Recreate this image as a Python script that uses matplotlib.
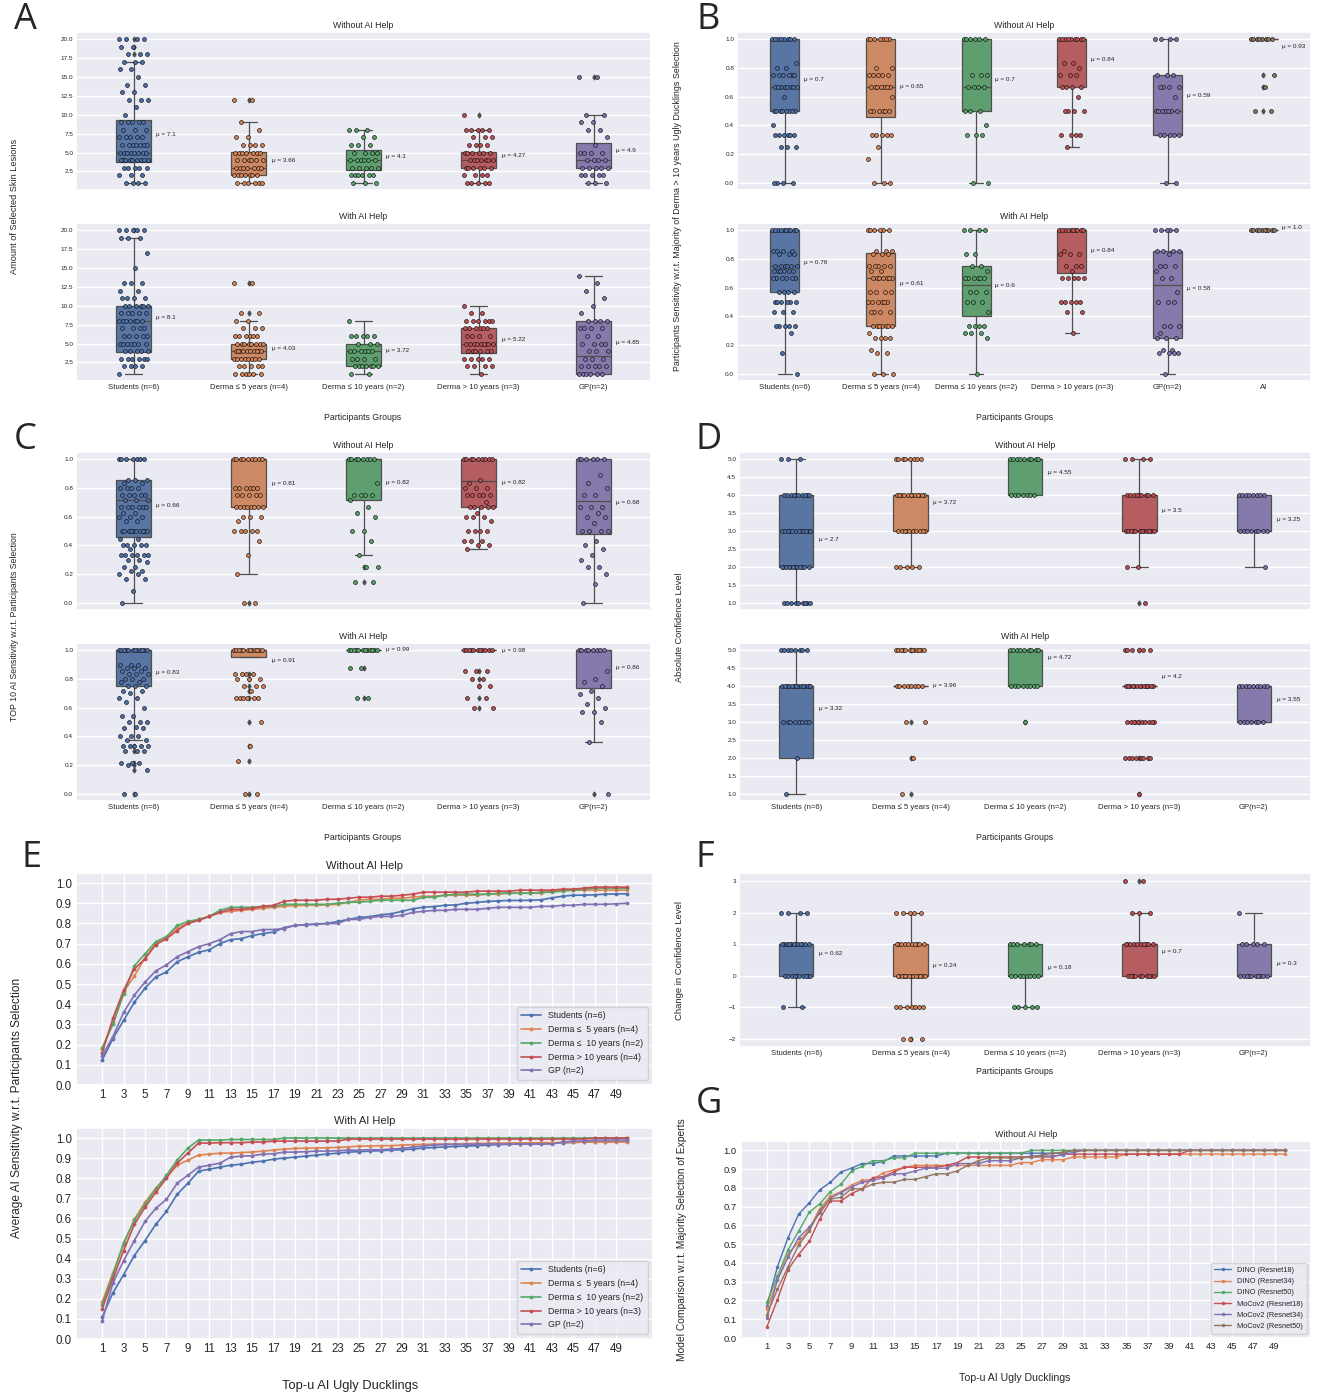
import matplotlib
matplotlib.use("Agg")
import matplotlib.pyplot as plt
import numpy as np
import seaborn as sns

sns.set_theme(style="darkgrid")
plt.rcParams["font.family"] = ["Liberation Sans", "DejaVu Sans"]

# ---------------- DATA ----------------
groups5 = ["Students (n=6)", "Derma ≤ 5 years (n=4)", "Derma ≤ 10 years (n=2)",
           "Derma > 10 years (n=3)", "GP(n=2)"]
groups6 = groups5 + ["AI"]

# box stats: (q1, median, q3, whisker_low, whisker_high)
A_wo_box = [(3.7, 5, 9.3, 1, 17), (2, 3, 5.1, 1, 9), (2.7, 4, 5.3, 1, 8), (3, 4, 5.1, 1, 8), (3, 4, 6.3, 1, 10)]
A_w_box = [(3.9, 8, 10, 1, 19), (2.9, 4, 5, 1, 8), (2, 4, 5, 1, 8), (3.7, 5, 7, 1, 10), (1, 3.4, 8, 1, 14)]
A_wo_mean = [7.1, 3.66, 4.1, 4.27, 4.9]
A_w_mean = [8.1, 4.03, 3.72, 5.22, 4.85]
A_wo_pts = [
    [20, 20, 20, 20, 19, 19, 18, 18, 18, 17, 17, 17, 16, 16, 15, 14, 14, 13, 13, 12, 12, 12, 11, 10, 9, 9, 9, 9, 9,
     8, 8, 8, 7, 7, 7, 7, 7, 6, 6, 6, 6, 6, 6, 6, 5, 5, 5, 5, 5, 5, 5, 5, 4, 4, 4, 4, 4, 4, 4, 4, 4, 3, 3, 3, 3, 3,
     2, 2, 2, 1, 1, 1, 1],
    [12, 12, 9, 8, 7, 7, 6, 6, 6, 6, 5, 5, 5, 5, 5, 5, 5, 4, 4, 4, 4, 4, 4, 3, 3, 3, 3, 3, 3, 3, 2, 2, 2, 2, 2, 2, 2,
     1, 1, 1, 1, 1, 1],
    [8, 8, 8, 7, 7, 6, 6, 6, 5, 5, 5, 5, 4, 4, 4, 4, 4, 4, 3, 3, 3, 3, 3, 2, 2, 2, 2, 2, 2, 1, 1, 1],
    [10, 8, 8, 8, 8, 8, 7, 7, 7, 6, 6, 6, 6, 5, 5, 5, 5, 5, 5, 4, 4, 4, 4, 4, 4, 4, 3, 3, 3, 3, 3, 3, 2, 2, 2, 2,
     1, 1, 1, 1, 1],
    [15, 15, 10, 10, 9, 9, 8, 8, 7, 6, 5, 5, 5, 5, 4, 4, 4, 4, 3, 3, 3, 3, 3, 2, 2, 2, 2, 2, 1, 1, 1],
]
A_w_pts = [
    [20, 20, 20, 20, 20, 19, 19, 19, 17, 15, 13, 13, 13, 12, 12, 11, 11, 11, 11, 10, 10, 10, 10, 10, 10, 9, 9, 9, 9,
     9, 8, 8, 8, 8, 8, 8, 8, 7, 7, 7, 7, 6, 6, 6, 6, 6, 5, 5, 5, 5, 5, 5, 5, 4, 4, 4, 4, 4, 3, 3, 3, 3, 3, 3, 2, 2,
     2, 2, 1],
    [13, 13, 9, 9, 8, 8, 7, 7, 7, 6, 6, 6, 6, 6, 6, 5, 5, 5, 5, 5, 5, 5, 5, 4, 4, 4, 4, 4, 4, 4, 4, 4, 4, 3, 3, 3,
     3, 3, 3, 3, 3, 2, 2, 2, 2, 2, 1, 1, 1, 1, 1, 1],
    [8, 6, 6, 6, 6, 6, 5, 5, 5, 4, 4, 4, 4, 4, 4, 3, 3, 3, 3, 2, 2, 2, 2, 2, 2, 2, 1, 1],
    [10, 9, 9, 8, 8, 8, 8, 8, 8, 7, 7, 7, 7, 7, 7, 6, 6, 6, 6, 5, 5, 5, 5, 5, 5, 5, 5, 5, 4, 4, 4, 4, 4, 4, 3, 3, 3,
     3, 3, 2, 2, 2, 2, 1],
    [14, 13, 12, 11, 10, 9, 8, 8, 8, 8, 7, 7, 7, 7, 6, 6, 5, 5, 5, 5, 4, 4, 4, 3, 3, 3, 2, 2, 2, 2, 2, 1, 1, 1, 1,
     1, 1],
]

B_wo_box = [(0.5, 0.667, 1, 0, 1), (0.455, 0.667, 1, 0, 1), (0.5, 0.667, 1, 0, 1), (0.667, 1, 1, 0.25, 1),
            (0.333, 0.5, 0.75, 0, 1), (1, 1, 1, 1, 1)]
B_w_box = [(0.57, 0.75, 1, 0, 1), (0.333, 0.667, 0.84, 0, 1), (0.405, 0.62, 0.75, 0, 1), (0.7, 1, 1, 0.286, 1),
           (0.25, 0.62, 0.857, 0, 1), (1, 1, 1, 1, 1)]
B_wo_mean = [0.7, 0.65, 0.7, 0.84, 0.59, 0.93]
B_w_mean = [0.76, 0.61, 0.6, 0.84, 0.58, 1.0]
B_wo_pts = [
    [1, 1, 1, 1, 1, 1, 1, 1, 0.833, 0.8, 0.8, 0.75, 0.75, 0.75, 0.75, 0.75, 0.75, 0.667, 0.667, 0.667, 0.667, 0.667,
     0.667, 0.667, 0.667, 0.6, 0.5, 0.5, 0.5, 0.5, 0.5, 0.5, 0.5, 0.5, 0.4, 0.333, 0.333, 0.333, 0.333, 0.333, 0.333,
     0.25, 0.25, 0.25, 0, 0, 0, 0],
    [1, 1, 1, 1, 1, 1, 1, 0.8, 0.8, 0.75, 0.75, 0.75, 0.75, 0.75, 0.667, 0.667, 0.667, 0.667, 0.667, 0.667, 0.667,
     0.6, 0.5, 0.5, 0.5, 0.5, 0.5, 0.5, 0.333, 0.333, 0.333, 0.333, 0.333, 0.25, 0.167, 0, 0, 0],
    [1, 1, 1, 1, 1, 1, 0.75, 0.75, 0.75, 0.667, 0.667, 0.667, 0.667, 0.5, 0.5, 0.5, 0.4, 0.333, 0.333, 0.333, 0, 0],
    [1, 1, 1, 1, 1, 1, 1, 1, 1, 0.833, 0.833, 0.8, 0.75, 0.75, 0.75, 0.667, 0.667, 0.667, 0.667, 0.6, 0.5, 0.5, 0.5,
     0.5, 0.333, 0.333, 0.333, 0.333, 0.25],
    [1, 1, 1, 1, 0.75, 0.75, 0.75, 0.667, 0.667, 0.667, 0.667, 0.6, 0.5, 0.5, 0.5, 0.5, 0.5, 0.5, 0.5, 0.333, 0.333,
     0.333, 0.333, 0.333, 0, 0],
    [1, 1, 1, 1, 1, 1, 1, 1, 0.75, 0.667, 0.5, 0.5],
]
B_w_pts = [
    [1, 1, 1, 1, 1, 1, 1, 1, 1, 1, 0.857, 0.857, 0.857, 0.857, 0.833, 0.833, 0.833, 0.75, 0.75, 0.75, 0.75, 0.75,
     0.75, 0.714, 0.714, 0.714, 0.714, 0.714, 0.714, 0.667, 0.667, 0.667, 0.667, 0.667, 0.667, 0.571, 0.571, 0.571,
     0.571, 0.5, 0.5, 0.5, 0.5, 0.5, 0.5, 0.429, 0.429, 0.429, 0.333, 0.333, 0.333, 0.333, 0.333, 0.286, 0.143, 0],
    [1, 1, 1, 1, 1, 1, 0.857, 0.857, 0.857, 0.833, 0.833, 0.833, 0.75, 0.75, 0.75, 0.75, 0.75, 0.714, 0.714, 0.667,
     0.667, 0.667, 0.667, 0.667, 0.667, 0.667, 0.571, 0.571, 0.571, 0.571, 0.5, 0.5, 0.5, 0.5, 0.5, 0.5, 0.429, 0.429,
     0.429, 0.429, 0.333, 0.333, 0.333, 0.333, 0.333, 0.333, 0.333, 0.286, 0.25, 0.25, 0.25, 0.25, 0.167, 0.143,
     0.143, 0, 0, 0],
    [1, 1, 1, 1, 0.833, 0.833, 0.75, 0.75, 0.714, 0.667, 0.667, 0.667, 0.667, 0.667, 0.667, 0.571, 0.571, 0.571, 0.5,
     0.5, 0.5, 0.429, 0.333, 0.333, 0.333, 0.333, 0.286, 0.286, 0.286, 0.25, 0],
    [1, 1, 1, 1, 1, 1, 1, 1, 1, 1, 0.857, 0.833, 0.833, 0.833, 0.75, 0.75, 0.75, 0.714, 0.667, 0.667, 0.667, 0.667,
     0.667, 0.5, 0.5, 0.5, 0.5, 0.5, 0.429, 0.429, 0.286],
    [1, 1, 1, 1, 1, 0.857, 0.857, 0.857, 0.857, 0.833, 0.75, 0.75, 0.75, 0.714, 0.667, 0.667, 0.571, 0.5, 0.5, 0.5,
     0.333, 0.333, 0.333, 0.286, 0.25, 0.25, 0.25, 0.167, 0.167, 0.143, 0.143, 0.143, 0.143, 0],
    [1, 1, 1, 1, 1, 1, 1, 1, 1, 1],
]

C_wo_box = [(0.46, 0.714, 0.857, 0, 1), (0.667, 1, 1, 0.2, 1), (0.714, 1, 1, 0.333, 1), (0.667, 0.846, 1, 0.375, 1),
            (0.48, 0.71, 1, 0, 1)]
C_w_box = [(0.75, 1, 1, 0.375, 1), (0.955, 1, 1, 0.955, 1), (1, 1, 1, 1, 1), (1, 1, 1, 1, 1), (0.74, 1, 1, 0.364, 1)]
C_wo_mean = [0.66, 0.81, 0.82, 0.82, 0.68]
C_w_mean = [0.83, 0.91, 0.99, 0.98, 0.86]
C_wo_pts = [
    [1, 1, 1, 1, 1, 1, 1, 0.857, 0.857, 0.857, 0.833, 0.833, 0.8, 0.8, 0.8, 0.8, 0.75, 0.75, 0.75, 0.75, 0.75, 0.714,
     0.714, 0.714, 0.667, 0.667, 0.667, 0.667, 0.667, 0.667, 0.625, 0.625, 0.6, 0.6, 0.6, 0.571, 0.571, 0.5, 0.5, 0.5,
     0.5, 0.5, 0.5, 0.5, 0.5, 0.5, 0.5, 0.444, 0.444, 0.4, 0.4, 0.4, 0.4, 0.4, 0.375, 0.333, 0.333, 0.333, 0.333,
     0.333, 0.333, 0.3, 0.3, 0.286, 0.25, 0.25, 0.222, 0.222, 0.2, 0.2, 0.167, 0.167, 0.083, 0],
    [1, 1, 1, 1, 1, 1, 1, 1, 1, 0.8, 0.8, 0.8, 0.8, 0.8, 0.8, 0.75, 0.75, 0.75, 0.75, 0.75, 0.667, 0.667, 0.667,
     0.667, 0.667, 0.667, 0.667, 0.667, 0.6, 0.6, 0.6, 0.571, 0.5, 0.5, 0.5, 0.5, 0.5, 0.429, 0.333, 0.2, 0, 0],
    [1, 1, 1, 1, 1, 1, 1, 1, 0.833, 0.75, 0.75, 0.75, 0.75, 0.714, 0.667, 0.625, 0.6, 0.5, 0.5, 0.429, 0.333, 0.25,
     0.25, 0.143, 0.143],
    [1, 1, 1, 1, 1, 1, 1, 1, 1, 0.857, 0.833, 0.8, 0.8, 0.8, 0.75, 0.75, 0.75, 0.75, 0.75, 0.7, 0.667, 0.667, 0.667,
     0.667, 0.667, 0.625, 0.6, 0.6, 0.6, 0.571, 0.5, 0.5, 0.5, 0.5, 0.429, 0.429, 0.429, 0.4, 0.4, 0.375],
    [1, 1, 1, 1, 1, 1, 0.889, 0.833, 0.8, 0.75, 0.75, 0.667, 0.667, 0.667, 0.625, 0.6, 0.6, 0.556, 0.5, 0.5, 0.5,
     0.5, 0.429, 0.4, 0.375, 0.333, 0.3, 0.25, 0.25, 0.2, 0.133, 0],
]
C_w_pts = [
    [1, 1, 1, 1, 1, 1, 1, 1, 1, 1, 1, 1, 0.9, 0.9, 0.9, 0.875, 0.875, 0.875, 0.857, 0.857, 0.833, 0.833, 0.833, 0.8,
     0.8, 0.8, 0.778, 0.778, 0.75, 0.75, 0.75, 0.714, 0.714, 0.7, 0.667, 0.667, 0.636, 0.6, 0.545, 0.545, 0.5, 0.5,
     0.5, 0.467, 0.455, 0.455, 0.4, 0.4, 0.4, 0.375, 0.375, 0.333, 0.333, 0.333, 0.333, 0.333, 0.3, 0.3, 0.3, 0.214,
     0.214, 0.214, 0.2, 0.167, 0, 0],
    [1, 1, 1, 1, 1, 1, 1, 1, 1, 1, 1, 1, 0.833, 0.833, 0.833, 0.833, 0.8, 0.8, 0.8, 0.75, 0.75, 0.75, 0.714, 0.667,
     0.667, 0.667, 0.667, 0.667, 0.667, 0.5, 0.333, 0.231, 0, 0],
    [1, 1, 1, 1, 1, 1, 1, 1, 1, 1, 1, 1, 0.875, 0.875, 0.667, 0.667],
    [1, 1, 1, 1, 1, 1, 1, 1, 1, 1, 1, 0.857, 0.857, 0.857, 0.8, 0.8, 0.75, 0.75, 0.667, 0.667, 0.6, 0.6],
    [1, 1, 1, 1, 1, 1, 1, 1, 0.857, 0.8, 0.778, 0.75, 0.714, 0.692, 0.667, 0.625, 0.6, 0.571, 0.571, 0.5, 0.364, 0],
]

D_wo_box = [(2, 3, 4, 1, 5), (3, 4, 4, 2, 5), (4, 5, 5, 4, 5), (3, 3, 4, 2, 5), (3, 3, 4, 2, 4)]
D_w_box = [(2, 4, 4, 1, 5), (4, 4, 4, 4, 4), (4, 5, 5, 4, 5), (4, 4, 4, 4, 4), (3, 4, 4, 3, 4)]
D_wo_mean = [2.7, 3.72, 4.55, 3.5, 3.25]
D_w_mean = [3.32, 3.96, 4.72, 4.2, 3.55]
D_wo_pts = [
    [5, 5, 5, 4, 4, 4, 4, 4, 4, 4, 4, 4, 4, 3, 3, 3, 3, 3, 3, 3, 3, 3, 3, 3, 3, 2, 2, 2, 2, 2, 2, 2, 2, 2, 2, 2, 2,
     1, 1, 1, 1, 1, 1, 1, 1, 1],
    [5, 5, 5, 5, 5, 5, 5, 5, 4, 4, 4, 4, 4, 4, 4, 4, 4, 4, 4, 4, 3, 3, 3, 3, 3, 3, 3, 3, 3, 3, 2, 2, 2, 2, 2],
    [5, 5, 5, 5, 5, 5, 5, 5, 5, 4, 4, 4, 4, 4, 4, 4],
    [5, 5, 5, 5, 4, 4, 4, 4, 4, 4, 4, 4, 4, 3, 3, 3, 3, 3, 3, 3, 3, 3, 3, 3, 3, 2, 2, 1],
    [4, 4, 4, 4, 4, 4, 4, 4, 3, 3, 3, 3, 3, 3, 3, 3, 2],
]
D_w_pts = [
    [5, 5, 5, 5, 5, 5, 5, 5, 4, 4, 4, 4, 4, 4, 4, 4, 4, 4, 4, 4, 4, 4, 3, 3, 3, 3, 3, 3, 3, 3, 2, 1],
    [5, 5, 5, 5, 5, 5, 5, 5, 5, 5, 5, 5, 4, 4, 4, 4, 4, 4, 4, 4, 3, 3, 2, 1],
    [5, 5, 5, 5, 5, 5, 5, 5, 5, 4, 4, 4, 4, 4, 4, 4, 4, 3],
    [5, 5, 5, 5, 5, 5, 4, 4, 4, 4, 4, 4, 4, 4, 4, 4, 4, 4, 4, 4, 3, 3, 3, 3, 3, 3, 3, 3, 3, 3, 2, 2, 2, 2, 2, 2, 2,
     2, 1],
    [4, 4, 4, 4, 4, 4, 4, 4, 4, 3, 3, 3, 3, 3, 3, 3],
]

F_box = [(0, 1, 1, -1, 2), (0, 0, 1, -1, 2), (0, 0, 1, -1, 1), (0, 1, 1, 0, 2), (0, 0, 1, 0, 2)]
F_mean = [0.62, 0.24, 0.18, 0.7, 0.3]
F_pts = [
    [2, 2, 2, 2, 1, 1, 1, 1, 1, 1, 1, 1, 1, 1, 1, 1, 0, 0, 0, 0, 0, 0, 0, 0, 0, 0, -1, -1],
    [2, 2, 2, 2, 2, 1, 1, 1, 1, 1, 1, 1, 1, 1, 1, 0, 0, 0, 0, 0, 0, 0, 0, 0, 0, 0, 0, 0, 0, -1, -1, -1, -1, -1, -1,
     -1, -2, -2, -2],
    [1, 1, 1, 1, 1, 1, 1, 0, 0, 0, 0, 0, 0, 0, 0, -1, -1, -1, -1, -1],
    [3, 3, 2, 2, 2, 1, 1, 1, 1, 1, 1, 1, 1, 1, 1, 0, 0, 0, 0, 0, 0, 0, 0, 0, 0],
    [2, 1, 1, 1, 1, 1, 0, 0, 0, 0, 0, 0, 0, 0, 0, 0],
]

topu = list(range(1, 51))
E_wo_labels = ["Students (n=6)", "Derma ≤  5 years (n=4)", "Derma ≤  10 years (n=2)",
               "Derma > 10 years (n=4)", "GP (n=2)"]
E_w_labels = ["Students (n=6)", "Derma ≤  5 years (n=4)", "Derma ≤  10 years (n=2)",
              "Derma > 10 years (n=3)", "GP (n=2)"]
E_wo_students = [0.124, 0.23, 0.32, 0.41, 0.48, 0.535, 0.56, 0.61, 0.635, 0.657,
                 0.67, 0.70, 0.72, 0.725, 0.74, 0.75, 0.757, 0.78, 0.79, 0.793,
                 0.798, 0.80, 0.81, 0.82, 0.83, 0.834, 0.843, 0.848, 0.86, 0.873,
                 0.88, 0.884, 0.89, 0.892, 0.90, 0.904, 0.909, 0.912, 0.914, 0.914,
                 0.915, 0.917, 0.927, 0.935, 0.94, 0.94, 0.942, 0.945, 0.946, 0.947]
E_wo_derma5 = [0.18, 0.31, 0.46, 0.54, 0.63, 0.70, 0.73, 0.78, 0.80, 0.82,
               0.835, 0.855, 0.86, 0.865, 0.87, 0.875, 0.88, 0.885, 0.888, 0.89,
               0.89, 0.892, 0.895, 0.905, 0.915, 0.92, 0.92, 0.925, 0.925, 0.93,
               0.935, 0.935, 0.94, 0.94, 0.94, 0.94, 0.945, 0.945, 0.95, 0.95,
               0.95, 0.95, 0.96, 0.965, 0.965, 0.965, 0.965, 0.965, 0.965, 0.965]
E_wo_derma10 = [0.185, 0.30, 0.45, 0.59, 0.65, 0.71, 0.735, 0.79, 0.81, 0.82,
                0.835, 0.865, 0.88, 0.88, 0.88, 0.885, 0.885, 0.895, 0.895, 0.895,
                0.895, 0.895, 0.90, 0.905, 0.905, 0.91, 0.915, 0.915, 0.915, 0.915,
                0.93, 0.93, 0.94, 0.945, 0.945, 0.945, 0.945, 0.95, 0.95, 0.95,
                0.95, 0.955, 0.955, 0.96, 0.965, 0.97, 0.975, 0.975, 0.975, 0.975]
E_wo_dermaGT10 = [0.16, 0.33, 0.47, 0.575, 0.625, 0.695, 0.725, 0.765, 0.80, 0.815,
                  0.835, 0.855, 0.87, 0.87, 0.875, 0.885, 0.89, 0.91, 0.915, 0.915,
                  0.915, 0.92, 0.92, 0.925, 0.93, 0.93, 0.935, 0.935, 0.94, 0.945,
                  0.955, 0.955, 0.955, 0.955, 0.955, 0.96, 0.96, 0.96, 0.96, 0.965,
                  0.965, 0.965, 0.965, 0.97, 0.97, 0.975, 0.98, 0.98, 0.98, 0.98]
E_wo_gp = [0.145, 0.24, 0.36, 0.445, 0.51, 0.565, 0.595, 0.635, 0.66, 0.685,
           0.70, 0.72, 0.75, 0.76, 0.76, 0.77, 0.77, 0.775, 0.79, 0.795,
           0.795, 0.80, 0.80, 0.82, 0.82, 0.83, 0.835, 0.835, 0.84, 0.855,
           0.86, 0.865, 0.865, 0.87, 0.87, 0.87, 0.875, 0.88, 0.88, 0.88,
           0.88, 0.885, 0.885, 0.89, 0.89, 0.895, 0.895, 0.895, 0.897, 0.90]

E_w_students = [0.11, 0.23, 0.32, 0.415, 0.49, 0.57, 0.635, 0.72, 0.775, 0.835,
                0.845, 0.855, 0.865, 0.87, 0.88, 0.885, 0.895, 0.90, 0.905, 0.91,
                0.915, 0.92, 0.925, 0.93, 0.932, 0.935, 0.937, 0.94, 0.942, 0.945,
                0.95, 0.953, 0.956, 0.958, 0.96, 0.962, 0.965, 0.967, 0.969, 0.97,
                0.972, 0.973, 0.975, 0.977, 0.978, 0.98, 0.981, 0.982, 0.983, 0.983]
E_w_derma5 = [0.185, 0.33, 0.47, 0.595, 0.68, 0.75, 0.805, 0.865, 0.89, 0.915,
              0.92, 0.925, 0.925, 0.928, 0.93, 0.935, 0.94, 0.945, 0.948, 0.95,
              0.95, 0.952, 0.953, 0.956, 0.96, 0.96, 0.962, 0.962, 0.965, 0.967,
              0.968, 0.97, 0.97, 0.97, 0.972, 0.973, 0.974, 0.975, 0.975, 0.976,
              0.976, 0.977, 0.977, 0.978, 0.978, 0.98, 0.98, 0.98, 0.98, 0.98]
E_w_derma10 = [0.17, 0.32, 0.48, 0.59, 0.67, 0.745, 0.815, 0.89, 0.95, 0.99,
               0.99, 0.99, 0.993, 0.993, 0.993, 0.993, 0.993, 1.0, 1.0, 1.0,
               1.0, 1.0, 1.0, 1.0, 1.0, 1.0, 1.0, 1.0, 1.0, 1.0,
               1.0, 1.0, 1.0, 1.0, 1.0, 1.0, 1.0, 1.0, 1.0, 1.0,
               1.0, 1.0, 1.0, 1.0, 1.0, 1.0, 1.0, 1.0, 1.0, 1.0]
E_w_dermaGT10 = [0.15, 0.30, 0.44, 0.57, 0.655, 0.73, 0.80, 0.875, 0.925, 0.975,
                 0.975, 0.977, 0.977, 0.977, 0.98, 0.98, 0.985, 0.985, 0.985, 0.985,
                 0.985, 0.985, 0.985, 0.995, 0.995, 0.995, 0.995, 0.995, 0.995, 0.995,
                 0.995, 0.995, 0.995, 0.995, 0.995, 0.995, 0.995, 0.995, 0.995, 0.995,
                 0.995, 0.995, 0.995, 0.995, 0.995, 0.995, 1.0, 1.0, 1.0, 1.0]
E_w_gp = [0.09, 0.28, 0.39, 0.49, 0.585, 0.65, 0.695, 0.775, 0.815, 0.855,
          0.865, 0.875, 0.905, 0.91, 0.912, 0.92, 0.922, 0.93, 0.93, 0.932,
          0.935, 0.935, 0.937, 0.94, 0.94, 0.942, 0.942, 0.945, 0.948, 0.955,
          0.96, 0.965, 0.968, 0.968, 0.968, 0.97, 0.97, 0.97, 0.97, 0.97,
          0.97, 0.97, 0.97, 0.98, 0.985, 0.985, 0.99, 0.99, 0.99, 0.99]

G_labels = ["DINO (Resnet18)", "DINO (Resnet34)", "DINO (Resnet50)",
            "MoCov2 (Resnet18)", "MoCov2 (Resnet34)", "MoCov2 (Resnet50)"]
G_dino18 = [0.17, 0.38, 0.535, 0.66, 0.72, 0.79, 0.83, 0.885, 0.905, 0.93,
            0.93, 0.94, 0.97, 0.97, 0.97, 0.97, 0.97, 0.985, 0.985, 0.985,
            0.985, 0.985, 0.985, 0.985, 0.985, 0.985, 0.985, 0.985, 0.985, 1.0,
            1.0, 1.0, 1.0, 1.0, 1.0, 1.0, 1.0, 1.0, 1.0, 1.0,
            1.0, 1.0, 1.0, 1.0, 1.0, 1.0, 1.0, 1.0, 1.0, 1.0]
G_dino34 = [0.155, 0.31, 0.45, 0.51, 0.58, 0.69, 0.755, 0.78, 0.815, 0.84,
            0.845, 0.88, 0.895, 0.91, 0.92, 0.92, 0.92, 0.92, 0.92, 0.92,
            0.92, 0.92, 0.92, 0.92, 0.935, 0.935, 0.95, 0.95, 0.95, 0.965,
            0.965, 0.965, 0.965, 0.965, 0.98, 0.98, 0.98, 0.98, 0.98, 0.98,
            0.98, 0.98, 0.98, 0.98, 0.98, 0.98, 0.98, 0.98, 0.98, 0.98]
G_dino50 = [0.19, 0.33, 0.47, 0.57, 0.67, 0.715, 0.78, 0.82, 0.89, 0.915,
            0.945, 0.945, 0.96, 0.96, 0.985, 0.985, 0.985, 0.985, 0.985, 0.985,
            0.985, 0.985, 0.985, 0.985, 0.985, 1.0, 1.0, 1.0, 1.0, 1.0,
            1.0, 1.0, 1.0, 1.0, 1.0, 1.0, 1.0, 1.0, 1.0, 1.0,
            1.0, 1.0, 1.0, 1.0, 1.0, 1.0, 1.0, 1.0, 1.0, 1.0]
G_moco18 = [0.06, 0.205, 0.365, 0.445, 0.515, 0.635, 0.73, 0.73, 0.77, 0.795,
            0.855, 0.86, 0.885, 0.91, 0.91, 0.91, 0.91, 0.92, 0.935, 0.965,
            0.965, 0.965, 0.965, 0.965, 0.965, 0.965, 0.965, 0.965, 0.98, 0.98,
            0.98, 0.98, 0.98, 0.98, 0.98, 0.98, 0.98, 0.98, 0.98, 0.98,
            1.0, 1.0, 1.0, 1.0, 1.0, 1.0, 1.0, 1.0, 1.0, 1.0]
G_moco34 = [0.105, 0.31, 0.43, 0.535, 0.59, 0.665, 0.745, 0.775, 0.805, 0.83,
            0.84, 0.855, 0.875, 0.875, 0.89, 0.905, 0.905, 0.905, 0.93, 0.93,
            0.93, 0.945, 0.945, 0.945, 0.96, 0.97, 0.97, 0.97, 0.975, 0.99,
            1.0, 1.0, 1.0, 1.0, 1.0, 1.0, 1.0, 1.0, 1.0, 1.0,
            1.0, 1.0, 1.0, 1.0, 1.0, 1.0, 1.0, 1.0, 1.0, 1.0]
G_moco50 = [0.125, 0.26, 0.38, 0.495, 0.57, 0.68, 0.74, 0.75, 0.795, 0.795,
            0.82, 0.83, 0.83, 0.845, 0.845, 0.86, 0.875, 0.875, 0.89, 0.92,
            0.945, 0.96, 0.96, 0.96, 0.96, 0.965, 0.975, 0.985, 0.99, 1.0,
            1.0, 1.0, 1.0, 1.0, 1.0, 1.0, 1.0, 1.0, 1.0, 1.0,
            1.0, 1.0, 1.0, 1.0, 1.0, 1.0, 1.0, 1.0, 1.0, 1.0]

# ---------------- FIGURE ----------------
W, H = 1318, 1397
fig = plt.figure(figsize=(W / 100, H / 100), dpi=100)
deep = sns.color_palette("deep")
GRAY = "#4f4f4f"


def add_ax(l, t, r, b):
    return fig.add_axes([l / W, 1 - b / H, (r - l) / W, (b - t) / H])


def box_panel(ax, boxes, means, pts, labels, title=None, show_x=True):
    n = len(boxes)
    stats = []
    for (q1, med, q3, lo, hi), p in zip(boxes, pts):
        fl = sorted(set(v for v in p if v < lo or v > hi))
        stats.append(dict(q1=q1, med=med, q3=q3, whislo=lo, whishi=hi, fliers=fl))
    bp = ax.bxp(stats, positions=list(range(n)), widths=0.3, patch_artist=True, showfliers=True,
                boxprops=dict(edgecolor=GRAY, linewidth=0.9),
                whiskerprops=dict(color=GRAY, linewidth=0.9),
                capprops=dict(color=GRAY, linewidth=0.9),
                medianprops=dict(color=GRAY, linewidth=0.9),
                flierprops=dict(marker="d", markerfacecolor=GRAY, markeredgecolor=GRAY, markersize=2.5))
    for i, patch in enumerate(bp["boxes"]):
        patch.set_facecolor(sns.desaturate(deep[i], 0.75))
    for i, p in enumerate(pts):
        offs = np.array([((j * 0.6180339) % 1 - 0.5) * 0.26 for j in range(len(p))])
        ax.plot(i + offs, p, "o", ms=2.8, mfc=deep[i], mec="#1a1a1a", mew=0.5, ls="none", zorder=4)
    for i, m in enumerate(means):
        ax.text(i + 0.2, m, f"μ = {m}", fontsize=4.6, ha="left", va="bottom", color="#222222")
    ax.set_xlim(-0.5, n - 0.5)
    ax.set_xticks(range(n))
    if show_x:
        ax.set_xticklabels(labels, fontsize=5.6)
    else:
        ax.set_xticklabels([])
    ax.grid(False, axis="x")
    ax.tick_params(axis="both", length=0, pad=2)
    ax.tick_params(axis="y", labelsize=4.6)
    if title:
        ax.set_title(title, fontsize=6.3, pad=3)


# Panel A
a1 = add_ax(76, 32, 651, 190)
box_panel(a1, A_wo_box, A_wo_mean, A_wo_pts, groups5, "Without AI Help", show_x=False)
a2 = add_ax(76, 223, 651, 381)
box_panel(a2, A_w_box, A_w_mean, A_w_pts, groups5, "With AI Help")

# Panel B
b1 = add_ax(737, 32, 1311, 190)
box_panel(b1, B_wo_box, B_wo_mean, B_wo_pts, groups6, "Without AI Help", show_x=False)
b2 = add_ax(737, 223, 1311, 381)
box_panel(b2, B_w_box, B_w_mean, B_w_pts, groups6, "With AI Help")

# Panel C
c1 = add_ax(76, 452, 651, 610)
box_panel(c1, C_wo_box, C_wo_mean, C_wo_pts, groups5, "Without AI Help", show_x=False)
c2 = add_ax(76, 643, 651, 801)
box_panel(c2, C_w_box, C_w_mean, C_w_pts, groups5, "With AI Help")

# Panel D
d1 = add_ax(739, 452, 1311, 610)
box_panel(d1, D_wo_box, D_wo_mean, D_wo_pts, groups5, "Without AI Help", show_x=False)
d2 = add_ax(739, 643, 1311, 801)
box_panel(d2, D_w_box, D_w_mean, D_w_pts, groups5, "With AI Help")

# Panel F
f1 = add_ax(739, 873, 1311, 1047)
box_panel(f1, F_box, F_mean, F_pts, groups5, None)


def line_panel(ax, series, labels, title, tick_fs, leg_fs, title_fs, lw, ms):
    for i, (s, lab) in enumerate(zip(series, labels)):
        ax.plot(topu, s, marker=".", ms=ms, lw=lw, color=deep[i], label=lab)
    ax.set_xticks(list(range(1, 50, 2)))
    ax.set_yticks(np.round(np.arange(0, 1.01, 0.1), 1))
    ax.set_ylim(0, 1.05)
    ax.set_xlim(-1.45, 52.45)
    ax.tick_params(axis="both", length=0, pad=3, labelsize=tick_fs)
    ax.set_title(title, fontsize=title_fs, pad=3)
    leg = ax.legend(loc="lower right", fontsize=leg_fs, frameon=True, borderpad=0.5,
                    handlelength=2.3, labelspacing=0.55, borderaxespad=0.6)
    leg.get_frame().set_facecolor("#EAEAF2")
    leg.get_frame().set_edgecolor("#cccccc")


e1 = add_ax(76, 873, 653, 1085)
line_panel(e1, [E_wo_students, E_wo_derma5, E_wo_derma10, E_wo_dermaGT10, E_wo_gp], E_wo_labels,
           "Without AI Help", 8.3, 6.3, 8, 1.2, 3.5)
e2 = add_ax(76, 1128, 653, 1339)
line_panel(e2, [E_w_students, E_w_derma5, E_w_derma10, E_w_dermaGT10, E_w_gp], E_w_labels,
           "With AI Help", 8.3, 6.3, 8, 1.2, 3.5)

g1 = add_ax(741, 1141, 1311, 1338)
line_panel(g1, [G_dino18, G_dino34, G_dino50, G_moco18, G_moco34, G_moco50], G_labels,
           "Without AI Help", 6.8, 5.3, 6.5, 1.0, 3.0)

# ---------------- FIGURE TEXT ----------------
def ftext(x, y, s, **kw):
    fig.text(x / W, 1 - y / H, s, **kw)


for letter, (x, y) in {"A": (25, 20), "B": (708, 20), "C": (25, 440), "D": (709, 440),
                       "E": (32, 858), "F": (705, 858), "G": (709, 1104)}.items():
    ftext(x, y, letter, fontsize=26, ha="center", va="center", family=["Open Sans", "DejaVu Sans"])

for x, y in [(363, 417), (1015, 417), (363, 837), (1015, 837), (1015, 1072)]:
    ftext(x, y, "Participants Groups", fontsize=6.3, ha="center", va="center")

ftext(350, 1386, "Top-u AI Ugly Ducklings", fontsize=9.3, ha="center", va="center")
ftext(1015, 1378, "Top-u AI Ugly Ducklings", fontsize=7.6, ha="center", va="center")

ylabels = [
    (15, 206, "Amount of Selected Skin Lesions", 6.6),
    (678, 206, "Participants Sensitivity w.r.t. Majority of Derma > 10 years Ugly Ducklings Selection", 6.4),
    (15, 627, "TOP 10 AI Sensitivity w.r.t. Participants Selection", 6.3),
    (679, 627, "Absolute Confidence Level", 6.6),
    (17, 1108, "Average AI Sensitivity w.r.t. Participants Selection", 8.6),
    (679, 960, "Change in Confidence Level", 6.8),
    (682, 1240, "Model Comparison w.r.t. Majority Selection of Experts", 7.4),
]
for x, y, s, fs in ylabels:
    ftext(x, y, s, fontsize=fs, rotation=90, ha="center", va="center")

fig.savefig("out.png", dpi=100)
